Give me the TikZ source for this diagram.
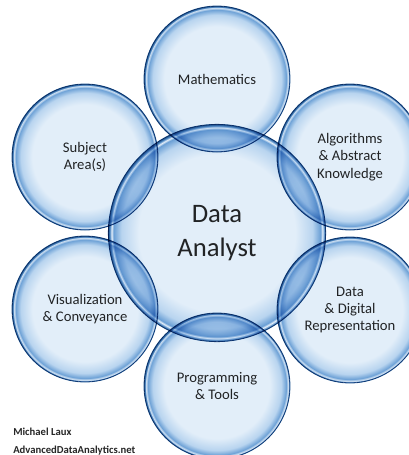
\documentclass[tikz,border=0pt]{standalone}
\usepackage{fontspec}
\setmainfont{Carlito}
\usepackage{tikz}
\usepackage{xcolor}
\usetikzlibrary{positioning}
\definecolor{bubin}{HTML}{E2EEF9}
\definecolor{bubsoft}{HTML}{B8D4EF}
\definecolor{bubrim}{HTML}{6A9FD5}
\definecolor{bubhi}{HTML}{EEF5FC}
\definecolor{bubedge}{HTML}{5690CB}
\definecolor{bubline}{HTML}{1F5690}
\definecolor{txtgray}{HTML}{262626}
\pgfdeclareradialshading{bubble}{\pgfpointorigin}{color(0bp)=(bubin); color(18bp)=(bubin); color(22bp)=(bubsoft); color(23.8bp)=(bubrim); color(24.3bp)=(bubhi); color(24.6bp)=(bubedge); color(25bp)=(bubline); color(50bp)=(bubline)}
\tikzset{skill/.style={circle, inner sep=0pt, outer sep=0pt, minimum size=109.5pt, draw=bubline, line width=0.6pt, shading=bubble, blend mode=multiply, text=txtgray, align=center, font=\fontsize{11}{13}\selectfont}}
\tikzset{core/.style={skill, minimum size=163pt, font=\fontsize{20}{26}\selectfont}}
\tikzset{credit/.style={anchor=west, inner sep=0pt, text=txtgray, font=\fontsize{8}{9}\selectfont\bfseries}}

\begin{document}
\begin{tikzpicture}[x=0.75pt, y=-0.75pt]
    \useasboundingbox (0, 0) rectangle (409, 455);
    % centre circle first, the six skills around it
    \node[core] (analyst) at (217, 233) {Data\\Analyst};
    \node[skill] (math) at (217, 79) {Mathematics};
    \node[skill] (algo) at (350, 157) {Algorithms\\\& Abstract\\Knowledge};
    \node[skill] (digital) at (350, 310) {Data\\\& Digital\\Representation};
    \node[skill] (prog) at (217, 386) {Programming\\\& Tools};
    \node[skill] (visual) at (85, 309) {Visualization\\\& Conveyance};
    \node[skill] (subject) at (85, 157) {Subject\\Area(s)};

    \node[credit] (author) at (13, 432) {Michael\ Laux};
    \node[credit] (site) at (13, 451) {AdvancedDataAnalytics.net};
\end{tikzpicture}
\end{document}
